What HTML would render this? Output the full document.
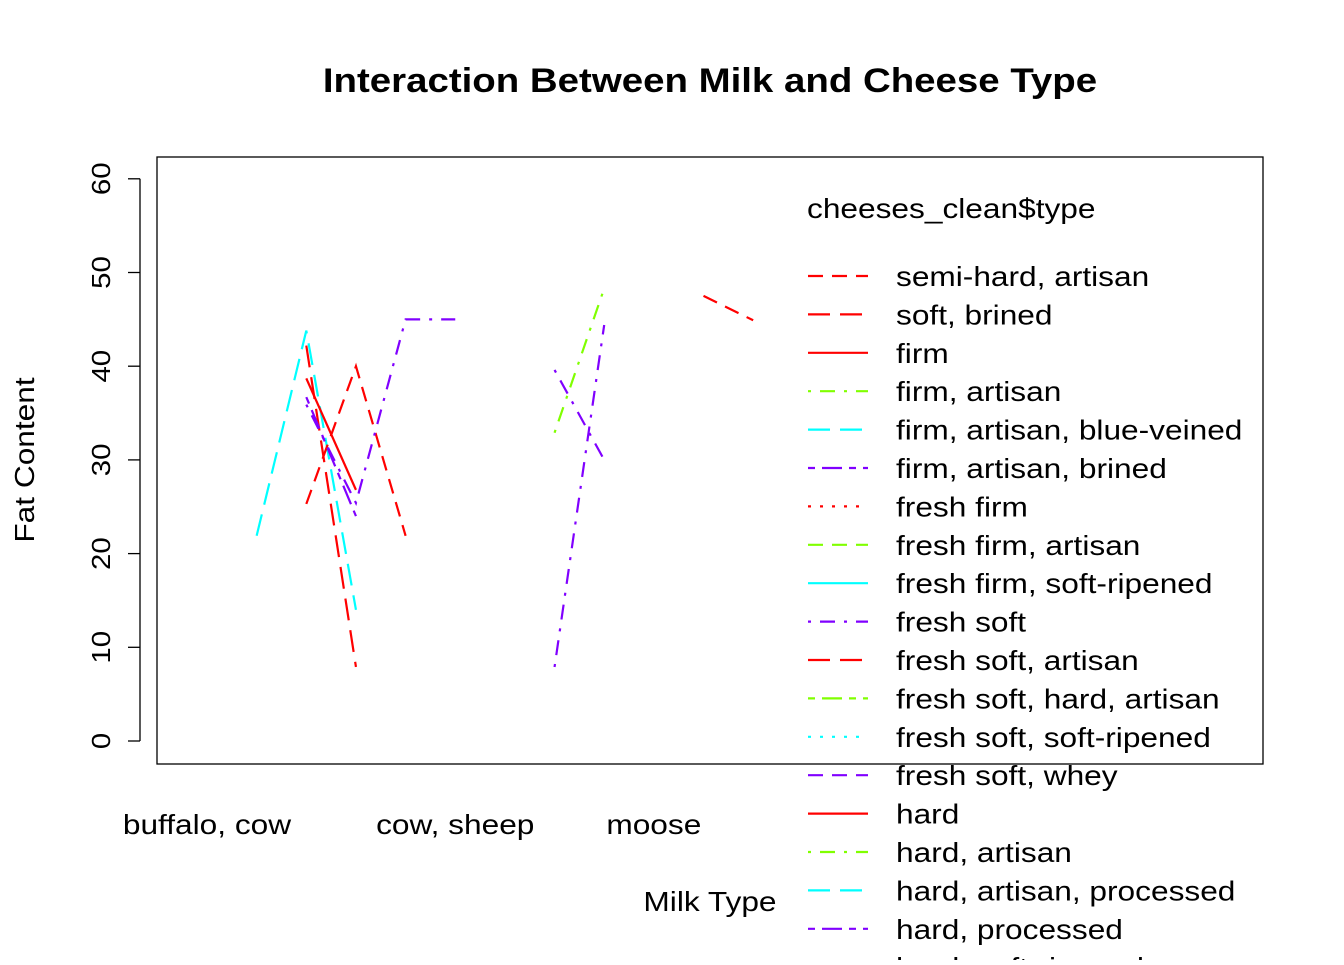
<!DOCTYPE html>
<html><head><meta charset="utf-8"><style>
body{margin:0;background:#fff}
svg text{font-family:"Liberation Sans",Arial,sans-serif}
</style></head><body>
<svg id="chart" width="1344" height="960" xmlns="http://www.w3.org/2000/svg">
<text x="710" y="92" font-size="34" font-weight="bold" text-anchor="middle">Interaction Between Milk and Cheese Type</text>
<rect x="157" y="157" width="1106" height="607" fill="none" stroke="#000" stroke-width="1.3"/>
<g id="yaxis"></g>
<g id="xaxis"></g>
<g id="series"></g>
<g id="legend"></g>
<text transform="translate(34,460) rotate(-90)" font-size="28" text-anchor="middle">Fat Content</text>
<text x="710" y="911" font-size="28" text-anchor="middle">Milk Type</text>
</svg>
<script>
const yTicks=[0,10,20,30,40,50,60];
const xLabels=[[1,"buffalo, cow"],[6,"cow, sheep"],[10,"moose"]];
const seriesNames=["cyan-a","red-long","red-dash","red-solid","purple-a","purple-b","green-a","purple-c","purple-d","red-e"];
const seriesX=[[2,3,4],[3,4],[3,4,5],[3,4],[3,4],[3,4,5,6],[8,9],[8,9],[8,9],[11,12]];
const seriesY=[[21.9,43.8,14],[42.2,7.9],[25.3,40,21.9],[38.7,26.8],[36.7,24],[35.9,25.4,45,45],[32.9,48.3],[39.6,30],[7.9,44.4],[47.5,44.9]];
const seriesCol=["#00FFFF","#FF0000","#FF0000","#FF0000","#8000FF","#8000FF","#80FF00","#8000FF","#8000FF","#FF0000"];
const seriesLty=[5,5,2,1,6,4,4,4,4,2];
const legendLabels=["semi-hard, artisan","soft, brined","firm","firm, artisan","firm, artisan, blue-veined","firm, artisan, brined","fresh firm","fresh firm, artisan","fresh firm, soft-ripened","fresh soft","fresh soft, artisan","fresh soft, hard, artisan","fresh soft, soft-ripened","fresh soft, whey","hard","hard, artisan","hard, artisan, processed","hard, processed","hard, soft-ripened"];
const legendCol=["#FF0000","#FF0000","#FF0000","#80FF00","#00FFFF","#8000FF","#FF0000","#80FF00","#00FFFF","#8000FF","#FF0000","#80FF00","#00FFFF","#8000FF","#FF0000","#80FF00","#00FFFF","#8000FF","#FF0000"];
const legendLty=[2,5,1,4,5,6,3,2,1,4,5,6,3,2,1,4,5,6,3];

const NS="http://www.w3.org/2000/svg";
const dash={1:"",2:"15 9",3:"3 9",4:"3 9 15 9",5:"22 10",6:"7 7 20 7"};
const yS=v=>741-v*9.37, xS=i=>207+(i-1)*49.65;
function mk(t,a,p){const e=document.createElementNS(NS,t);for(const k in a)e.setAttribute(k,a[k]);p.appendChild(e);return e;}
const ya=document.getElementById('yaxis');
mk('line',{x1:140,x2:140,y1:yS(0),y2:yS(60),stroke:'#000','stroke-width':1.3},ya);
yTicks.forEach(v=>{
 const l=mk('line',{x1:128,x2:140,y1:yS(v),y2:yS(v),stroke:'#000','stroke-width':1.3},ya);
 
 
 const t=mk('text',{transform:`translate(110,${yS(v)}) rotate(-90)`,'font-size':26,'text-anchor':'middle'},ya);
 t.textContent=v;
 
 
});
const xa=document.getElementById('xaxis');
xLabels.forEach(([i,s])=>{
 const t=mk('text',{x:xS(i),y:834,'font-size':28,'text-anchor':'middle'},xa);
 t.textContent=s;
 
 
});
const sg=document.getElementById('series');
seriesX.forEach((xs,k)=>{
 const pts=xs.map((x,j)=>xS(x)+','+yS(seriesY[k][j])).join(' ');
 const p=mk('polyline',{points:pts,fill:'none',stroke:seriesCol[k],'stroke-width':2.2,'stroke-dasharray':dash[seriesLty[k]]},sg);
 
 
});
const lg=document.getElementById('legend');
const tt=mk('text',{x:807,y:218,'font-size':28},lg);
tt.textContent="cheeses_clean$type";


legendLabels.forEach((s,k)=>{
 const y=276+k*38.4;
 const g=mk('g',{},lg);
 
 
 mk('line',{x1:808,x2:868,y1:y,y2:y,stroke:legendCol[k],'stroke-width':2.2,'stroke-dasharray':dash[legendLty[k]]},g);
 const t=mk('text',{x:896,y:y+10,'font-size':28},g);
 t.textContent=s;
});
document.querySelectorAll('svg text').forEach(t=>{
 const w=t.getComputedTextLength();
 if(w>0){t.setAttribute('textLength',(w*1.13).toFixed(1));t.setAttribute('lengthAdjust','spacingAndGlyphs');}
});
</script>
</body></html>
